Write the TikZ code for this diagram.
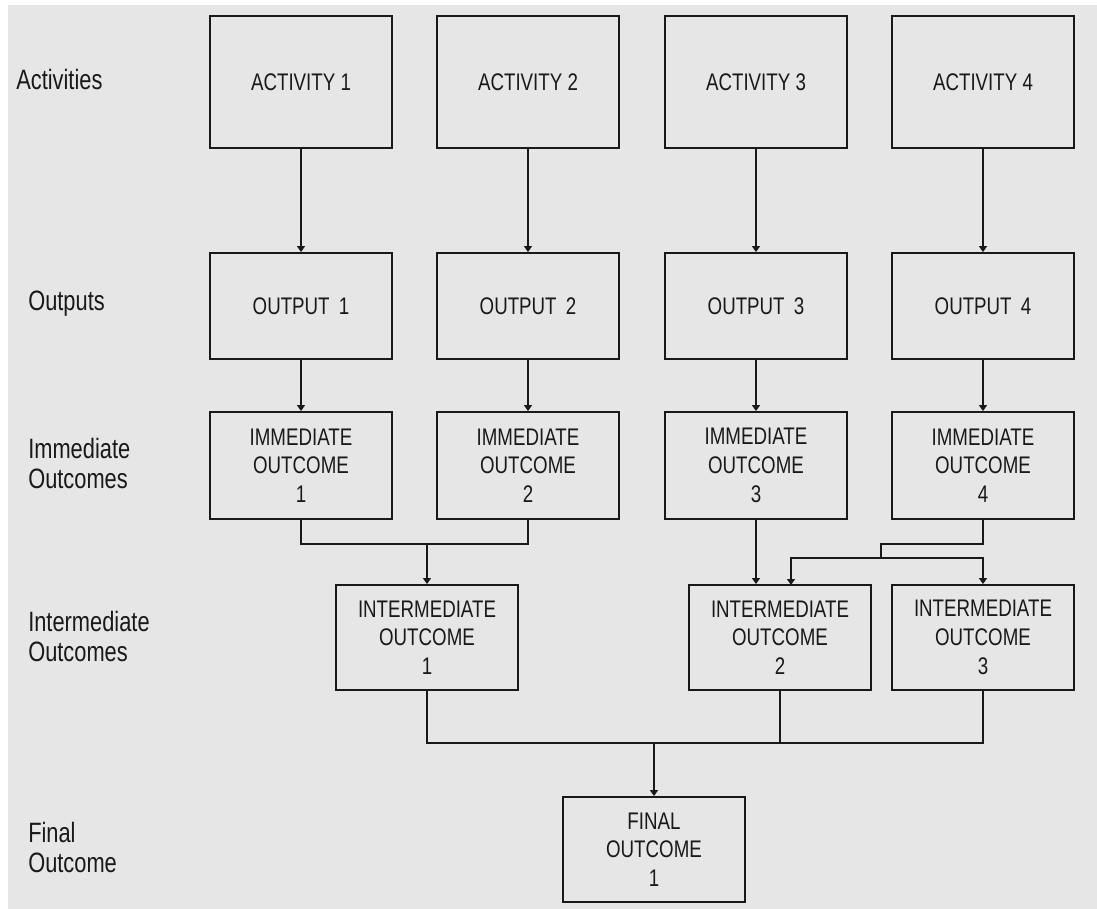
\documentclass[tikz,border=0pt]{standalone}
\usepackage{fontspec}
\setmainfont{Liberation Sans}[FakeStretch=0.78]
\usetikzlibrary{arrows.meta}
\definecolor{bggray}{RGB}{230,230,230}
\definecolor{ink}{RGB}{25,25,25}
\tikzset{
  box/.style={draw=ink, line width=1.4pt, minimum width=136.5pt, align=center,
    inner sep=0pt, text=ink, font=\fontsize{18}{21.5}\selectfont},
  rowlabel/.style={anchor=west, align=left, inner sep=0pt, text=ink,
    font=\fontsize{21}{22.5}\selectfont},
  link/.style={draw=ink, line width=1.4pt},
  arr/.style={link, -{Triangle[width=6pt,length=4.5pt]}}
}
\begin{document}
\begin{tikzpicture}[x=0.75pt,y=0.75pt,yscale=-1,xscale=1]
\useasboundingbox (0,0) rectangle (1097,909);
\fill [white] (0,0) rectangle (1097,909);
\fill [bggray] (8,5) rectangle (1097,909);
% row labels
\node [rowlabel] (lact) at (16,79) {Activities};
\node [rowlabel] (lout) at (28,304) {Outputs};
\node [rowlabel] (limm) at (28,463) {Immediate\\Outcomes};
\node [rowlabel] (lint) at (28,636) {Intermediate\\Outcomes};
\node [rowlabel] (lfin) at (28,847) {Final\\Outcome};
% activities and outputs
\node [box, minimum height=99pt] (act1) at (301,82) {ACTIVITY 1};
\node [box, minimum height=99pt] (act2) at (528,82) {ACTIVITY 2};
\node [box, minimum height=99pt] (act3) at (756,82) {ACTIVITY 3};
\node [box, minimum height=99pt] (act4) at (983,82) {ACTIVITY 4};
\node [box, minimum height=79.5pt] (out1) at (301,306) {OUTPUT\, 1};
\node [box, minimum height=79.5pt] (out2) at (528,306) {OUTPUT\, 2};
\node [box, minimum height=79.5pt] (out3) at (756,306) {OUTPUT\, 3};
\node [box, minimum height=79.5pt] (out4) at (983,306) {OUTPUT\, 4};
% outcomes
\node [box, minimum height=80.25pt] (imm1) at (301,465.5) {IMMEDIATE\\OUTCOME\\1};
\node [box, minimum height=80.25pt] (imm2) at (528,465.5) {IMMEDIATE\\OUTCOME\\2};
\node [box, minimum height=80.25pt] (imm3) at (756,465.5) {IMMEDIATE\\OUTCOME\\3};
\node [box, minimum height=80.25pt] (imm4) at (983,465.5) {IMMEDIATE\\OUTCOME\\4};
\node [box, minimum height=78.75pt] (int1) at (427,637.5) {INTERMEDIATE\\OUTCOME\\1};
\node [box, minimum height=78.75pt] (int2) at (780,637.5) {INTERMEDIATE\\OUTCOME\\2};
\node [box, minimum height=78.75pt] (int3) at (983,637.5) {INTERMEDIATE\\OUTCOME\\3};
\node [box, minimum height=78.75pt] (fin1) at (654,849.5) {FINAL\\OUTCOME\\1};
% connectors
\foreach \i in {1,...,4} {
  \draw [arr] (act\i.south) -- (out\i.north);
  \draw [arr] (out\i.south) -- (imm\i.north);
}
\coordinate (j1) at (427,544);
\draw [link] (imm1.south) |- (j1) -| (imm2.south);
\draw [arr] (j1) -- (int1.north);
\draw [arr] (imm3.south) -- (imm3.south |- int2.north);
\coordinate (j2) at (881,544);
\coordinate (j3) at (881,558);
\coordinate (int2in) at (791,585);
\draw [link] (imm4.south) |- (j2) -- (j3);
\draw [arr] (j3) -| (int2in);
\draw [arr] (j3) -| (int3.north);
\coordinate (j4) at (654,743);
\draw [link] (int1.south) |- (j4) -| (int3.south);
\draw [link] (int2.south) -- (int2.south |- j4);
\draw [arr] (j4) -- (fin1.north);
\end{tikzpicture}
\end{document}
